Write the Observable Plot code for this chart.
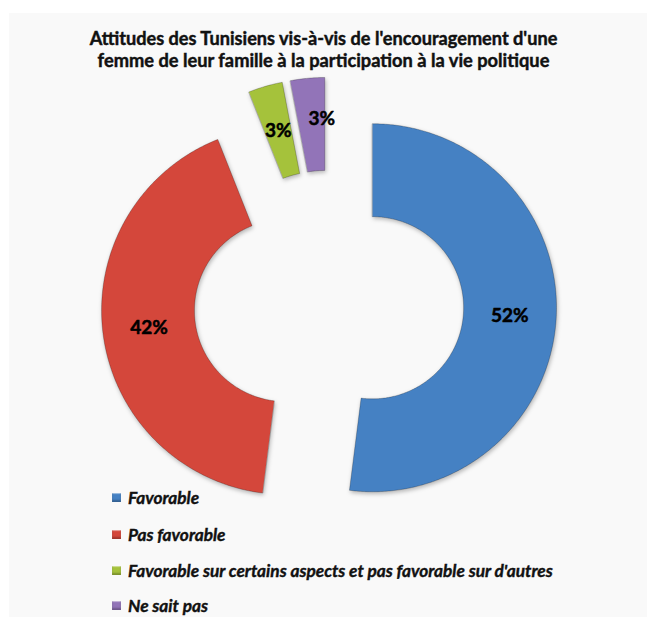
<!DOCTYPE html>
<html>
<head>
<meta charset="utf-8">
<script src="https://cdn.jsdelivr.net/npm/d3@7"></script>
<script src="https://cdn.jsdelivr.net/npm/@observablehq/plot@0.6"></script>
<style>
  html, body { margin: 0; padding: 0; background: #ffffff; }
  #page { position: relative; width: 647px; height: 617px; overflow: hidden; }
  #panel { position: absolute; left: 9px; top: 13px; right: 0; bottom: 0; background: #f9f9f9; }
  #chart { position: absolute; left: 0; top: 0; }
  .title { position: absolute; left: 0; width: 647px; text-align: center; font-family: Lato, "Open Sans", sans-serif; font-weight: 700; color: #111; white-space: nowrap; line-height: 1; -webkit-text-stroke: 0.45px #111; }
  .title span { display: inline-block; }
  .leg { position: absolute; left: 112px; height: 20px; display: flex; align-items: center; font-family: Lato, "Open Sans", sans-serif; font-weight: 700; font-style: italic; color: #111; white-space: nowrap; -webkit-text-stroke: 0.4px #111; }
  .sw { width: 9px; height: 9px; margin-right: 7px; box-shadow: inset 0 -2px 2px rgba(0,0,0,0.25), inset 0 1px 1px rgba(255,255,255,0.5); }
  svg path { filter: drop-shadow(1px 2px 2px rgba(0,0,0,0.28)); }
</style>
</head>
<body>
<div id="page">
  <div id="panel"></div>
  <div id="chart"></div>
</div>
<script>
// ---- data ----
const categories = [
  "Favorable",
  "Pas favorable",
  "Favorable sur certains aspects et pas favorable sur d'autres",
  "Ne sait pas"
];
const values = [52, 42, 3, 3];
const colors = ["#4581c3", "#d4473b", "#a5c23b", "#9274b8"];
const titleLines = [
  "Attitudes des Tunisiens vis-à-vis de l'encouragement d'une",
  "femme de leur famille à la participation à la vie politique"
];

// ---- geometry (styles, not data) ----
const innerRatio = 0.495;
const explode = 0.2375;
const labelRadius = (1 + innerRatio) / 2;

const total = d3.sum(values);
const pie = d3.pie().sort(null).value(d => d.value).startAngle(0).endAngle(2 * Math.PI);
const arcs = pie(categories.map((c, i) => ({cat: c, value: values[i]})));

const pts = [];
const labels = [];
for (const a of arcs) {
  const mid = (a.startAngle + a.endAngle) / 2;
  const ox = explode * Math.sin(mid), oy = explode * Math.cos(mid);
  const n = Math.max(3, Math.ceil((a.endAngle - a.startAngle) / 0.01));
  for (let k = 0; k <= n; k++) {
    const t = a.startAngle + (a.endAngle - a.startAngle) * k / n;
    pts.push({cat: a.data.cat, x: ox + Math.sin(t), y: oy + Math.cos(t)});
  }
  for (let k = n; k >= 0; k--) {
    const t = a.startAngle + (a.endAngle - a.startAngle) * k / n;
    pts.push({cat: a.data.cat, x: ox + innerRatio * Math.sin(t), y: oy + innerRatio * Math.cos(t)});
  }
  labels.push({
    cat: a.data.cat,
    text: Math.round(a.data.value / total * 100) + "%",
    x: ox + labelRadius * Math.sin(mid),
    y: oy + labelRadius * Math.cos(mid)
  });
}

const cx = 328.4, cy = 304.5, R = 184;
const labelStyle = {x: "x", y: "y", text: "text", fontSize: 19, fontWeight: "bold", fill: "#000", stroke: "#000", strokeWidth: 0.5, fontFamily: "Lato, 'Open Sans', sans-serif"};
const plot = Plot.plot({
  width: 647,
  height: 617,
  margin: 0,
  style: {background: "transparent", overflow: "visible"},
  x: {domain: [-1, 1], range: [cx - R, cx + R], axis: null},
  y: {domain: [-1, 1], range: [cy + R, cy - R], axis: null},
  color: {domain: categories, range: colors},
  marks: [
    Plot.line(pts, {x: "x", y: "y", z: "cat", fill: "cat", stroke: "rgba(0,0,0,0.22)", strokeWidth: 1, curve: "linear-closed"}),
    Plot.text(labels.slice(0, 3), labelStyle),
    Plot.text(labels.slice(3), {...labelStyle, dx: 10, dy: -6})
  ]
});
document.getElementById("chart").appendChild(plot);

// ---- title ----
const page = document.getElementById("page");
const titleCenters = [38, 60];
const titleWidths = [468, 452];
titleLines.forEach((line, i) => {
  const div = document.createElement("div");
  div.className = "title";
  const span = document.createElement("span");
  span.textContent = line;
  div.appendChild(span);
  page.appendChild(div);
  let fs = 17;
  span.style.fontSize = fs + "px";
  const w = span.getBoundingClientRect().width;
  fs = fs * titleWidths[i] / w;
  span.style.fontSize = fs.toFixed(2) + "px";
  const h = span.getBoundingClientRect().height;
  div.style.top = (titleCenters[i] - h / 2) + "px";
});

// ---- legend ----
const legendCenters = [497, 534, 570, 605];
const legItems = [];
categories.forEach((c, i) => {
  const row = document.createElement("div");
  row.className = "leg";
  row.style.top = (legendCenters[i] - 10) + "px";
  const sw = document.createElement("div");
  sw.className = "sw";
  sw.style.background = colors[i];
  const tx = document.createElement("span");
  tx.textContent = c;
  row.appendChild(sw);
  row.appendChild(tx);
  page.appendChild(row);
  legItems.push(tx);
});
legItems.forEach(t => t.style.fontSize = "15px");
const lw = legItems[2].getBoundingClientRect().width;
const lfs = 15 * 425 / lw;
legItems.forEach(t => t.style.fontSize = lfs.toFixed(2) + "px");
</script>
</body>
</html>
